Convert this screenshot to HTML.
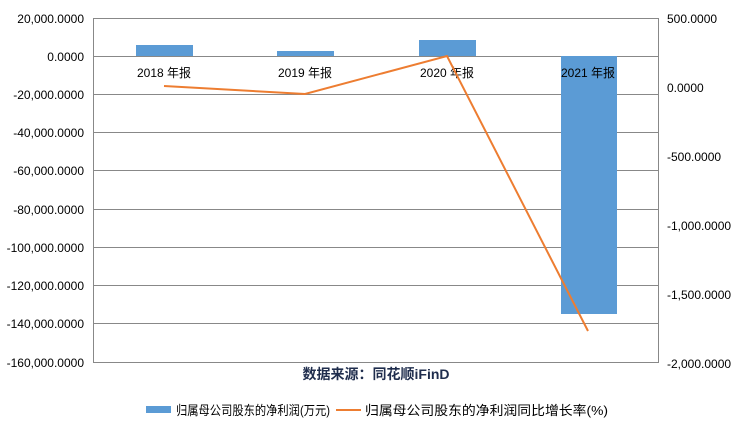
<!DOCTYPE html>
<html><head><meta charset="utf-8"><style>
body{margin:0;background:#fff}
svg text{font-family:"Liberation Sans","Noto Sans CJK SC",sans-serif;fill:#000}
</style></head><body>
<svg width="739" height="428" xmlns="http://www.w3.org/2000/svg">
<g stroke="#888" stroke-width="1">
<line x1="93" y1="18.5" x2="659" y2="18.5"/>
<line x1="93" y1="56.5" x2="659" y2="56.5"/>
<line x1="93" y1="94.5" x2="659" y2="94.5"/>
<line x1="93" y1="132.5" x2="659" y2="132.5"/>
<line x1="93" y1="170.5" x2="659" y2="170.5"/>
<line x1="93" y1="209.5" x2="659" y2="209.5"/>
<line x1="93" y1="247.5" x2="659" y2="247.5"/>
<line x1="93" y1="285.5" x2="659" y2="285.5"/>
<line x1="93" y1="323.5" x2="659" y2="323.5"/>
<line x1="93" y1="362.5" x2="659" y2="362.5"/>
<line x1="93.5" y1="18" x2="93.5" y2="363"/>
<line x1="658.5" y1="18" x2="658.5" y2="363"/>
</g>
<g fill="#5b9bd5">
<rect x="136" y="45" width="57" height="11"/>
<rect x="277" y="51" width="57" height="5"/>
<rect x="419" y="40" width="57" height="16"/>
<rect x="561" y="56" width="56" height="258"/>
</g>
<g font-size="12" text-anchor="middle">
<text x="164" y="77">2018 年报</text>
<text x="305" y="77">2019 年报</text>
<text x="447" y="77">2020 年报</text>
<text x="588" y="77">2021 年报</text>
</g>
<polyline points="164,86 305,94 447,56 588,331" fill="none" stroke="#ed7d31" stroke-width="2"/>
<g font-size="12" text-anchor="end">
<text x="84" y="23">20,000.0000</text>
<text x="84" y="61">0.0000</text>
<text x="84" y="99">-20,000.0000</text>
<text x="84" y="137">-40,000.0000</text>
<text x="84" y="175">-60,000.0000</text>
<text x="84" y="214">-80,000.0000</text>
<text x="84" y="252">-100,000.0000</text>
<text x="84" y="290">-120,000.0000</text>
<text x="84" y="328">-140,000.0000</text>
<text x="84" y="367">-160,000.0000</text>
</g>
<g font-size="12">
<text x="667" y="23">500.0000</text>
<text x="667" y="92">0.0000</text>
<text x="667" y="161">-500.0000</text>
<text x="667" y="230">-1,000.0000</text>
<text x="667" y="299">-1,500.0000</text>
<text x="667" y="368">-2,000.0000</text>
</g>
<text x="376" y="379" font-size="14" font-weight="bold" text-anchor="middle" style="fill:#1f2d4d">数据来源：同花顺iFinD</text>
<rect x="146" y="406" width="25" height="7" fill="#5b9bd5"/>
<text x="176" y="415" font-size="13" textLength="154" lengthAdjust="spacingAndGlyphs">归属母公司股东的净利润(万元)</text>
<line x1="336" y1="410" x2="361" y2="410" stroke="#ed7d31" stroke-width="2"/>
<text x="365" y="415" font-size="13" textLength="243" lengthAdjust="spacingAndGlyphs">归属母公司股东的净利润同比增长率(%)</text>
</svg>
</body></html>
